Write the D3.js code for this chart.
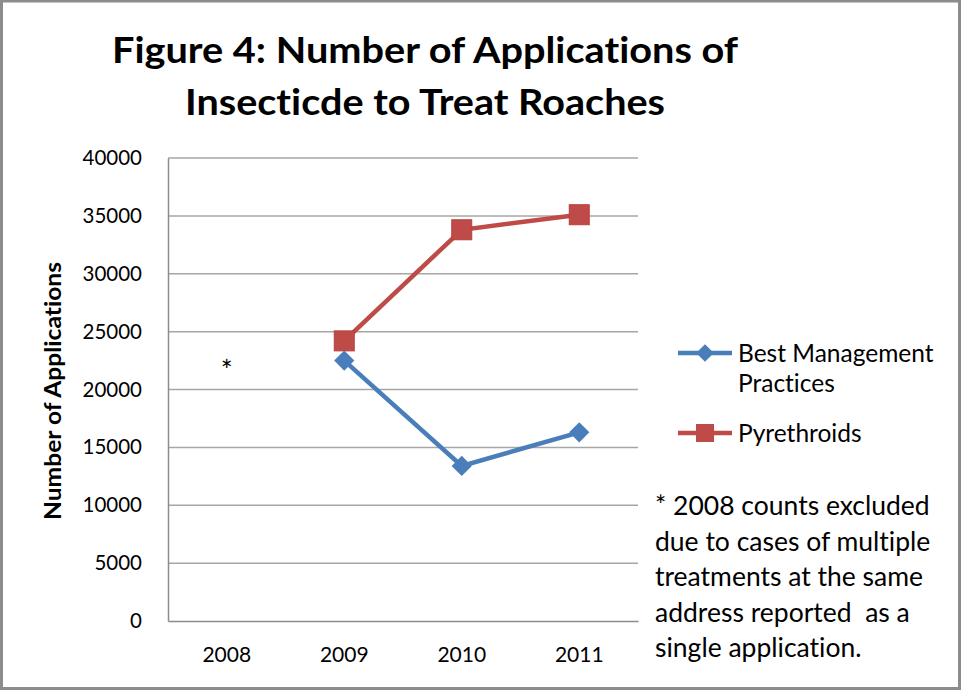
<!DOCTYPE html>
<html>
<head>
<meta charset="utf-8">
<script src="https://cdn.jsdelivr.net/npm/d3@7"></script>
<style>
	body { margin: 0; background: #fff; }
	svg text { font-family: Lato, "Open Sans", sans-serif; fill: #000; font-variant-ligatures: none; }
</style>
</head>
<body>
<script>
// chart data
var years = ["2008", "2009", "2010", "2011"];
var bmpValues = [null, 22500, 13400, 16300];
var pyrValues = [null, 24200, 33800, 35100];
var yTicks = [0, 5000, 10000, 15000, 20000, 25000, 30000, 35000, 40000];
var seriesNames = ["Best Management Practices", "Pyrethroids"];
var excludedYear = "2008";
var excludedMarkValue = 22200;
var titleLines = ["Figure 4: Number of Applications of", "Insecticde to Treat Roaches"];
var noteLines = ["* 2008 counts excluded", "due to cases of multiple", "treatments at the same", "address reported  as a", "single application."];

var width = 961,
	height = 690;

var svg = d3.select("body")
	.append("svg")
	.attr("width", width)
	.attr("height", height);

// outer border
svg.append("rect")
	.attr("x", 1.5)
	.attr("y", 1)
	.attr("width", width - 3)
	.attr("height", height - 2.5)
	.attr("fill", "none")
	.attr("stroke", "#8c8c8c")
	.attr("stroke-width", 3);

// title
var titleWidths = [626, 480];
svg.append("g")
	.selectAll("text")
	.data(titleLines)
	.enter().append("text")
	.attr("x", 425)
	.attr("y", function(d, i) { return 63 + i * 52; })
	.attr("text-anchor", "middle")
	.attr("font-size", 37)
	.attr("font-weight", "bold")
	.attr("textLength", function(d, i) { return titleWidths[i]; })
	.attr("lengthAdjust", "spacingAndGlyphs")
	.text(function(d) { return d; });

var x = d3.scaleBand()
	.domain(years)
	.range([168, 638]);

var y = d3.scaleLinear()
	.domain([0, 40000])
	.range([621, 158]);

// gridlines
svg.append("g")
	.selectAll("line")
	.data(yTicks.filter(function(d) { return d > 0; }))
	.enter().append("line")
	.attr("x1", 168)
	.attr("x2", 638)
	.attr("y1", function(d) { return y(d); })
	.attr("y2", function(d) { return y(d); })
	.attr("stroke", "#a6a6a6")
	.attr("stroke-width", 1.5);

// y axis
var yAxis = svg.append("g")
	.attr("transform", "translate(168,0)")
	.call(d3.axisLeft(y).tickValues(yTicks).tickSize(0).tickPadding(26).tickFormat(d3.format("d")));
yAxis.select(".domain").attr("stroke", "#8c8c8c").attr("stroke-width", 1.5);
yAxis.selectAll("text").attr("font-size", 20.5).attr("font-family", "Lato, sans-serif");

// x axis
var xAxis = svg.append("g")
	.attr("transform", "translate(0,621)")
	.call(d3.axisBottom(x).tickSize(0).tickPadding(26));
xAxis.select(".domain").attr("stroke", "#8c8c8c").attr("stroke-width", 1.5);
xAxis.selectAll("text").attr("font-size", 21).attr("font-family", "Lato, sans-serif");

// y axis title
svg.append("text")
	.attr("transform", "translate(61,391) rotate(-90)")
	.attr("text-anchor", "middle")
	.attr("font-size", 22)
	.attr("font-weight", "bold")
	.attr("textLength", 258)
	.attr("lengthAdjust", "spacingAndGlyphs")
	.text("Number of Applications");

// asterisk for excluded year
svg.append("text")
	.attr("x", x(excludedYear) + x.bandwidth() / 2)
	.attr("y", y(excludedMarkValue))
	.attr("dy", "0.62em")
	.attr("text-anchor", "middle")
	.attr("font-size", 28)
	.text("*");

var cx = function(i) { return x(years[i]) + x.bandwidth() / 2; };

var line = d3.line()
	.defined(function(d) { return d != null; })
	.x(function(d, i) { return cx(i); })
	.y(function(d) { return y(d); });

var blue = "#4a7ebb",
	red = "#be4b48";

var diamond = d3.symbol().type(d3.symbolDiamond2).size(260);

// pyrethroids
svg.append("path")
	.attr("d", line(pyrValues))
	.attr("fill", "none")
	.attr("stroke", red)
	.attr("stroke-width", 4.5);

svg.append("g")
	.selectAll("rect")
	.data(pyrValues.map(function(d, i) { return { v: d, i: i }; }).filter(function(d) { return d.v != null; }))
	.enter().append("rect")
	.attr("x", function(d) { return cx(d.i) - 10; })
	.attr("y", function(d) { return y(d.v) - 10; })
	.attr("width", 20)
	.attr("height", 20)
	.attr("fill", red)
	.attr("stroke", "#b8403d")
	.attr("stroke-width", 1);

// best management practices
svg.append("path")
	.attr("d", line(bmpValues))
	.attr("fill", "none")
	.attr("stroke", blue)
	.attr("stroke-width", 4.5);

svg.append("g")
	.selectAll("path")
	.data(bmpValues.map(function(d, i) { return { v: d, i: i }; }).filter(function(d) { return d.v != null; }))
	.enter().append("path")
	.attr("d", diamond)
	.attr("transform", function(d) { return "translate(" + cx(d.i) + "," + y(d.v) + ")"; })
	.attr("fill", blue);

// legend
var legend = svg.append("g");

legend.append("line")
	.attr("x1", 678).attr("x2", 732)
	.attr("y1", 353).attr("y2", 353)
	.attr("stroke", blue).attr("stroke-width", 4.5);
legend.append("path")
	.attr("d", d3.symbol().type(d3.symbolDiamond2).size(200))
	.attr("transform", "translate(705,353)")
	.attr("fill", blue);
legend.append("text")
	.attr("x", 738).attr("y", 362)
	.attr("font-size", 24.5)
	.text("Best Management");
legend.append("text")
	.attr("x", 738).attr("y", 392)
	.attr("font-size", 24.5)
	.text("Practices");

legend.append("line")
	.attr("x1", 678).attr("x2", 732)
	.attr("y1", 433).attr("y2", 433)
	.attr("stroke", red).attr("stroke-width", 4.5);
legend.append("rect")
	.attr("x", 696).attr("y", 424)
	.attr("width", 18).attr("height", 18)
	.attr("fill", red);
legend.append("text")
	.attr("x", 738).attr("y", 442)
	.attr("font-size", 24.5)
	.text(seriesNames[1]);

// footnote
svg.append("g")
	.selectAll("text")
	.data(noteLines)
	.enter().append("text")
	.attr("x", 655)
	.attr("y", function(d, i) { return 515 + i * 35.6; })
	.attr("font-size", 26.5)
	.attr("xml:space", "preserve")
	.text(function(d) { return d; });
</script>
</body>
</html>
